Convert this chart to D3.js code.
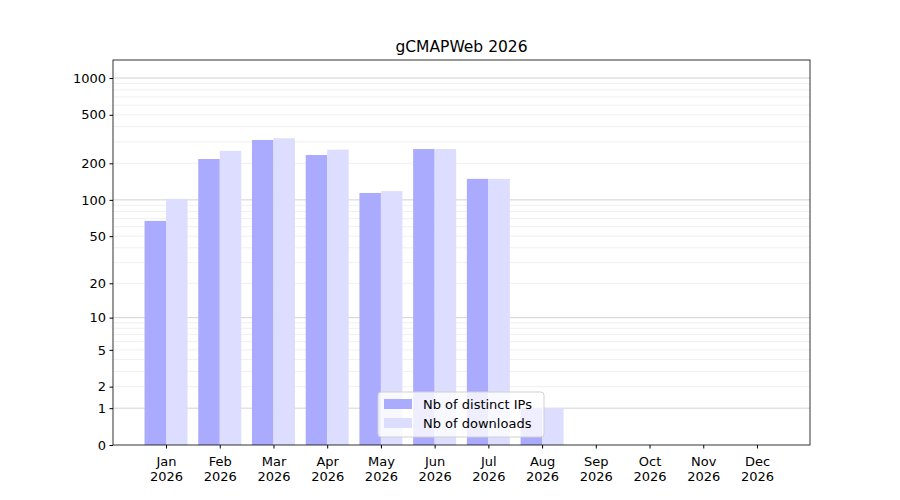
<!DOCTYPE html>
<html><head><meta charset="utf-8">
<script src="https://cdn.jsdelivr.net/npm/d3@7"></script>
<style>body{margin:0;background:#fff}text{font-family:"DejaVu Sans",sans-serif}</style>
</head><body><svg id="c" width="900" height="500"></svg>
<script>
const months=["Jan","Feb","Mar","Apr","May","Jun","Jul","Aug","Sep","Oct","Nov","Dec"];
const ips=[67,217,311,234,114,262,149,1,0,0,0,0];
const downloads=[102,253,321,259,118,262,149,1,0,0,0,0];
const yTicks=[0,1,2,5,10,20,50,100,200,500,1000];
const svg=d3.select("#c");
const L=113,R=810,T=60,B=445;
const x=d3.scaleLinear().domain([0.013,12.987]).range([L,R]);
const y=d3.scaleSymlog().constant(1).domain([0,1405]).range([B,T]);
const minor=[];
[1,10,100,1000].forEach(d=>{for(let k=2;k<10;k++){const v=d*k;if(v<1405)minor.push(v);}});
svg.append("g").selectAll("line").data(minor).join("line")
 .attr("x1",L).attr("x2",R).attr("y1",d=>y(d)).attr("y2",d=>y(d)).attr("stroke","#ececec").attr("stroke-width",0.8);
svg.append("g").selectAll("line").data([1,10,100,1000]).join("line")
 .attr("x1",L).attr("x2",R).attr("y1",d=>y(d)).attr("y2",d=>y(d)).attr("stroke","#c8c8c8").attr("stroke-width",0.8);
const w=x(1.4)-x(1);
svg.append("g").selectAll("rect").data(ips).join("rect")
 .attr("x",(d,i)=>x(i+1)-w).attr("width",w).attr("y",d=>y(d)).attr("height",d=>B-y(d)).attr("fill","#aaaaff");
svg.append("g").selectAll("rect").data(downloads).join("rect")
 .attr("x",(d,i)=>x(i+1)).attr("width",w).attr("y",d=>y(d)).attr("height",d=>B-y(d)).attr("fill","#ddddff");
svg.append("rect").attr("x",L).attr("y",T).attr("width",R-L).attr("height",B-T).attr("fill","none").attr("stroke","#000").attr("stroke-width",0.8);
const ya=svg.append("g").attr("transform",`translate(${L},0)`).call(d3.axisLeft(y).tickValues(yTicks).tickFormat(d3.format("d")).tickSize(3.5).tickPadding(3.5));
const xa=svg.append("g").attr("transform",`translate(0,${B})`).call(d3.axisBottom(x).tickValues(d3.range(1,13)).tickFormat("").tickSize(3.5));
[ya,xa].forEach(a=>{a.select(".domain").remove();a.selectAll("text").attr("font-size",13).attr("fill","#000");a.selectAll("line").attr("stroke","#000");});
xa.selectAll(".tick").each(function(d){const t=d3.select(this).append("text").attr("fill","#000").attr("font-size",13).attr("text-anchor","middle");
 t.append("tspan").attr("x",0).attr("y",21).text(months[d-1]);t.append("tspan").attr("x",0).attr("y",36).text("2026");});
svg.append("text").attr("x",(L+R)/2).attr("y",52).attr("text-anchor","middle").attr("font-size",15.5).text("gCMAPWeb 2026");
const lg=svg.append("g").attr("transform","translate(378,392)");
lg.append("rect").attr("width",166).attr("height",45).attr("rx",3).attr("fill","#fff").attr("fill-opacity",0.8).attr("stroke","#d0d0d0");
[["Nb of distinct IPs","#aaaaff"],["Nb of downloads","#ddddff"]].forEach((e,i)=>{
 lg.append("rect").attr("x",6).attr("y",7+i*19).attr("width",28).attr("height",10).attr("fill",e[1]);
 lg.append("text").attr("x",45).attr("y",16.5+i*19).attr("font-size",13).text(e[0]);});
</script></body></html>
